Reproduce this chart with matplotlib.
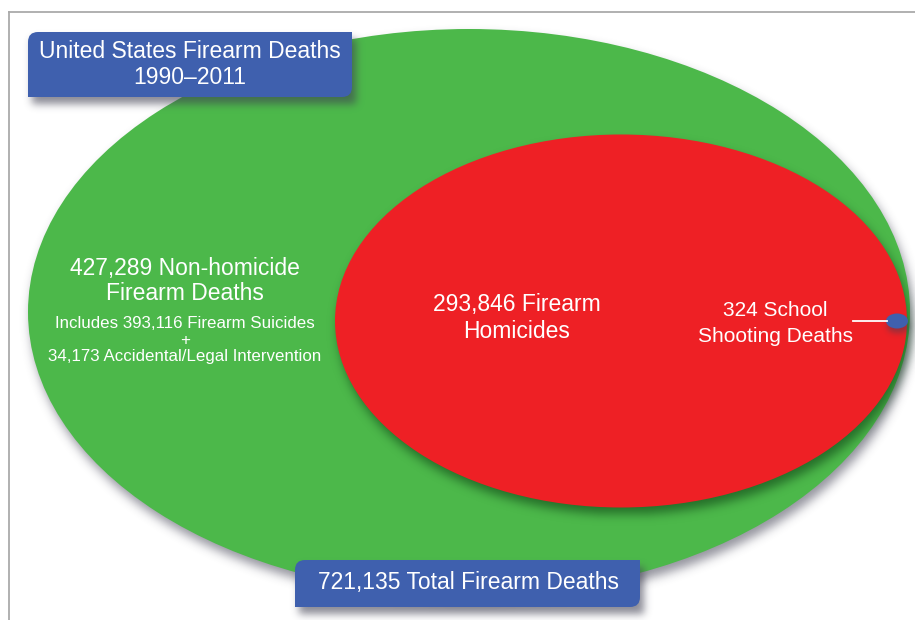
import numpy as np
import matplotlib
matplotlib.use('Agg')
import matplotlib.pyplot as plt
from matplotlib.patches import Ellipse, PathPatch
from matplotlib.path import Path

# ---- data ----
title_lines = ["United States Firearm Deaths", "1990\u20132011"]
total_deaths = 721135
nonhomicide = 427289
suicides = 393116
accidental_legal = 34173
homicides = 293846
school = 324

plt.rcParams['font.family'] = ['Liberation Sans', 'DejaVu Sans']

W, H = 915, 620
fig = plt.figure(figsize=(W / 100, H / 100), dpi=100)
ax = fig.add_axes([0, 0, 1, 1])
ax.set_xlim(0, W)
ax.set_ylim(H, 0)
ax.axis('off')

GREEN = '#4cb84a'
RED = '#ee2025'
BLUE = '#3f60ae'

yy, xx = np.mgrid[0:H, 0:W] + 0.5


def blur(a, s):
    r = int(3 * s)
    k = np.exp(-0.5 * (np.arange(-r, r + 1) / s) ** 2)
    k /= k.sum()
    a = np.apply_along_axis(lambda v: np.convolve(v, k, mode='same'), 1, a)
    a = np.apply_along_axis(lambda v: np.convolve(v, k, mode='same'), 0, a)
    return a


def shadow(mask, z, strength=0.55, s=5, color=(0.25, 0.25, 0.32)):
    a = blur(mask.astype(float), s) * strength
    img = np.zeros((H, W, 4))
    img[..., 0], img[..., 1], img[..., 2] = color
    img[..., 3] = a
    ax.imshow(img, extent=(0, W, H, 0), zorder=z, interpolation='bilinear')


def ell_mask(cx, cy, a, b):
    return ((xx - cx) / a) ** 2 + ((yy - cy) / b) ** 2 <= 1


def box_path(x0, y0, x1, y1, r):
    verts = [(x0, y0 + r), (x0, y0), (x0 + r, y0), (x1, y0), (x1, y1 - r),
             (x1, y1), (x1 - r, y1), (x0, y1), (x0, y0 + r)]
    codes = [Path.MOVETO, Path.CURVE3, Path.CURVE3, Path.LINETO, Path.LINETO,
             Path.CURVE3, Path.CURVE3, Path.LINETO, Path.CLOSEPOLY]
    return Path(verts, codes)


def box_mask(x0, y0, x1, y1):
    return (xx >= x0) & (xx <= x1) & (yy >= y0) & (yy <= y1)

# border lines
ax.plot([9, W], [12, 12], color='#aaaaaa', lw=1.3, zorder=1)
ax.plot([9, 9], [12, H], color='#aaaaaa', lw=1.3, zorder=1)

# green ellipse
g = dict(cx=469, cy=312, a=441, b=283)
shadow(ell_mask(g['cx'] + 3, g['cy'] + 7, g['a'], g['b']), 2)
ax.add_patch(Ellipse((g['cx'], g['cy']), 2 * g['a'], 2 * g['b'], color=GREEN, lw=0, zorder=3))

# red ellipse
r = dict(cx=621, cy=321, a=286, b=186.5)
shadow(ell_mask(r['cx'] + 3, r['cy'] + 7, r['a'], r['b']), 4, strength=0.6, color=(0.05, 0.25, 0.08))
ax.add_patch(Ellipse((r['cx'], r['cy']), 2 * r['a'], 2 * r['b'], color=RED, lw=0, zorder=5))

# blue dot
b = dict(cx=897, cy=321, a=11, b=7.5)
shadow(ell_mask(b['cx'] + 1, b['cy'] + 5, b['a'], b['b']), 6, strength=0.5, s=3)
ax.add_patch(Ellipse((b['cx'], b['cy']), 2 * b['a'], 2 * b['b'], color=BLUE, lw=0, zorder=7))
ax.plot([853, 887], [321, 321], color='white', lw=1.3, zorder=7)

# boxes
b1 = (28, 32, 352, 97)
b2 = (295, 560, 640, 607)
for (x0, y0, x1, y1) in (b1, b2):
    shadow(box_mask(x0 + 4, y0 + 7, x1 + 4, y1 + 7), 8, strength=0.6, s=4)
    ax.add_patch(PathPatch(box_path(x0, y0, x1, y1, 10), facecolor=BLUE, lw=0, zorder=9))

tk = dict(color='white', ha='center', va='center', zorder=10)
ax.text(190, 51, title_lines[0], fontsize=16.5, **tk)
ax.text(190, 77, title_lines[1], fontsize=16.5, **tk)
ax.text(468, 582, f"{total_deaths:,} Total Firearm Deaths", fontsize=16.5, **tk)

ax.text(185, 268, f"{nonhomicide:,} Non-homicide", fontsize=16.5, **tk)
ax.text(185, 294, "Firearm Deaths", fontsize=16.5, **tk)
ax.text(185, 324, f"Includes {suicides:,} Firearm Suicides", fontsize=12.2, **tk)
ax.text(185, 340, "+", fontsize=12.2, **tk)
ax.text(185, 357, f"{accidental_legal:,} Accidental/Legal Intervention", fontsize=12.2, **tk)

ax.text(517, 305, f"{homicides:,} Firearm", fontsize=16.5, **tk)
ax.text(517, 332, "Homicides", fontsize=16.5, **tk)

ax.text(775, 310, f"{school} School", fontsize=15, **tk)
ax.text(775, 336, "Shooting Deaths", fontsize=15, **tk)

fig.savefig('out.png', dpi=100)
